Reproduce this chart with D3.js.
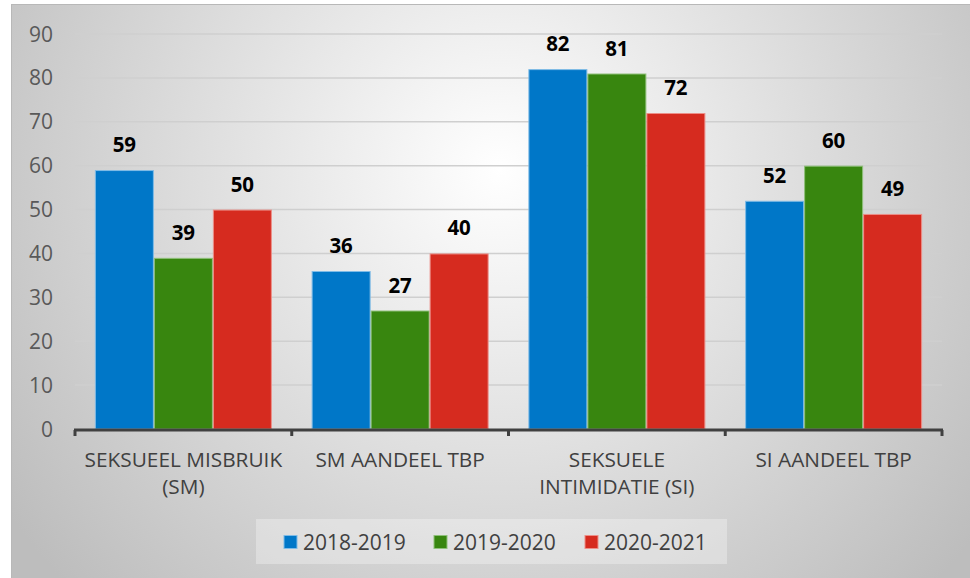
<!DOCTYPE html>
<html><head><meta charset="utf-8">
<script src="https://cdn.jsdelivr.net/npm/d3@7"></script>
<style>body{margin:0;background:#fff}svg{display:block}</style>
</head><body>
<script>
const categories = ["SEKSUEEL MISBRUIK (SM)", "SM AANDEEL TBP", "SEKSUELE INTIMIDATIE (SI)", "SI AANDEEL TBP"];
const categoryLines = [["SEKSUEEL MISBRUIK", "(SM)"], ["SM AANDEEL TBP"], ["SEKSUELE", "INTIMIDATIE (SI)"], ["SI AANDEEL TBP"]];
const series = ["2018-2019", "2019-2020", "2020-2021"];
const values2018 = [59, 36, 82, 52];
const values2019 = [39, 27, 81, 60];
const values2020 = [50, 40, 72, 49];
const yTicks = [0, 10, 20, 30, 40, 50, 60, 70, 80, 90];
const colors = ["#0077c8", "#38860f", "#d62b1f"];
const strokes = ["#7fbbe6", "#8fc07a", "#ec8f88"];

const allValues = [values2018, values2019, values2020];
const W = 970, H = 578;
const svg = d3.select("body").append("svg").attr("width", W).attr("height", H);
const defs = svg.append("defs");
const rg = defs.append("radialGradient").attr("id", "bg").attr("gradientUnits", "userSpaceOnUse")
  .attr("cx", 500).attr("cy", 170).attr("r", 600);
rg.append("stop").attr("offset", 0).attr("stop-color", "#ffffff");
rg.append("stop").attr("offset", 1).attr("stop-color", "#bdbdbd");

svg.append("rect").attr("x", 11.5).attr("y", 4.5).attr("width", W - 11).attr("height", H - 4)
  .attr("fill", "url(#bg)").attr("stroke", "#b8b8b8").attr("stroke-width", 1);

const font = "'Open Sans', sans-serif";
const y = d3.scaleLinear().domain([0, 90]).range([429, 34]);
const x0 = d3.scaleBand().domain(categories).range([75, 942]).paddingInner(0.1834).paddingOuter(0.0917);
const x1 = d3.scaleBand().domain(series).range([0, x0.bandwidth()]).padding(0);

// gridlines
svg.append("g").selectAll("line").data(yTicks.filter(d => d > 0)).join("line")
  .attr("x1", 75).attr("x2", 942).attr("y1", d => y(d)).attr("y2", d => y(d))
  .attr("stroke", "#cfcfcf").attr("stroke-width", 1.5);

// y labels
svg.append("g").selectAll("text").data(yTicks).join("text")
  .attr("x", 53).attr("y", d => y(d)).attr("dy", "0.36em").attr("text-anchor", "end")
  .attr("font-family", font).attr("font-size", 21).attr("fill", "#595959").text(d => d);

// bars
const groups = svg.append("g").selectAll("g").data(categories).join("g")
  .attr("transform", d => `translate(${x0(d)},0)`);
groups.each(function(cat, ci) {
  const g = d3.select(this);
  series.forEach((s, si) => {
    const v = allValues[si][ci];
    g.append("rect").attr("x", x1(s) + 0.5).attr("y", y(v) + 0.5)
      .attr("width", x1.bandwidth() - 1).attr("height", y(0) - y(v) - 0.5)
      .attr("fill", colors[si]).attr("stroke", strokes[si]).attr("stroke-width", 1);
    g.append("text").attr("x", x1(s) + x1.bandwidth() / 2).attr("y", y(v) - 18)
      .attr("text-anchor", "middle").attr("font-family", font).attr("font-weight", "bold")
      .attr("font-size", 20.5).attr("fill", "#000").text(v);
  });
});

// x axis
const axisY = 430;
svg.append("line").attr("x1", 74).attr("x2", 943).attr("y1", axisY).attr("y2", axisY)
  .attr("stroke", "#404040").attr("stroke-width", 3);
const bounds = categories.map(c => x0(c) - x0.step() * x0.paddingInner() / 2).concat([942]);
svg.append("g").selectAll("line").data(bounds).join("line")
  .attr("x1", d => d).attr("x2", d => d).attr("y1", axisY).attr("y2", axisY + 6)
  .attr("stroke", "#404040").attr("stroke-width", 3);

// category labels
categories.forEach((c, i) => {
  const cx = x0(c) + x0.bandwidth() / 2;
  const t = svg.append("text").attr("text-anchor", "middle").attr("font-family", font)
    .attr("font-size", 20.8).attr("fill", "#404040");
  categoryLines[i].forEach((line, li) => {
    t.append("tspan").attr("x", cx).attr("y", 467 + li * 27).text(line);
  });
});

// legend
svg.append("rect").attr("x", 256).attr("y", 519).attr("width", 471).attr("height", 45)
  .attr("fill", "#ffffff").attr("fill-opacity", 0.3);
const legendX = [284, 434, 585];
series.forEach((s, i) => {
  svg.append("rect").attr("x", legendX[i]).attr("y", 535.5).attr("width", 13).attr("height", 13)
    .attr("fill", colors[i]).attr("stroke", strokes[i]).attr("stroke-width", 1);
  svg.append("text").attr("x", legendX[i] + 19).attr("y", 549.5).attr("font-family", font)
    .attr("font-size", 21).attr("fill", "#404040").text(s);
});
</script>
</body></html>
